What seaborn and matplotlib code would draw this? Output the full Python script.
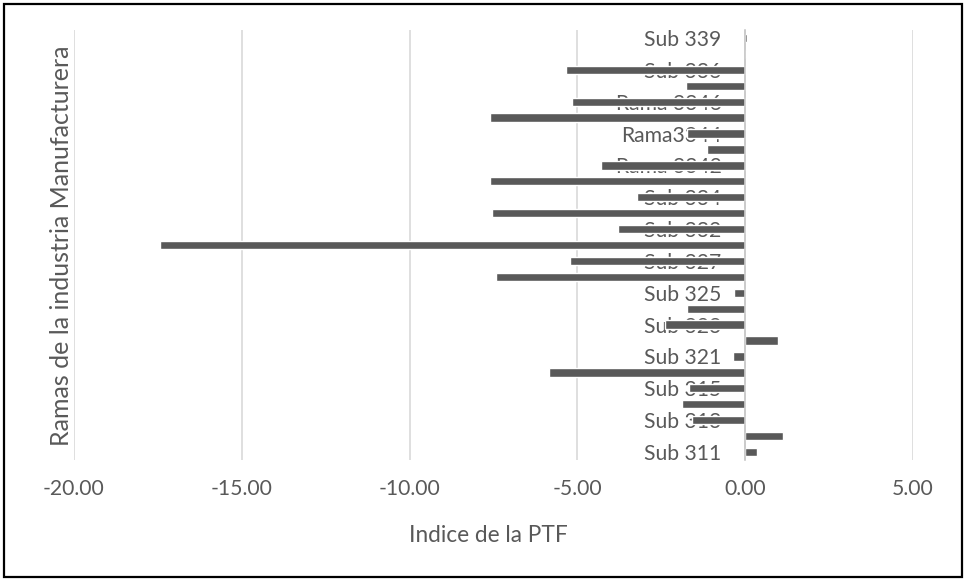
import matplotlib
matplotlib.use("Agg")
import matplotlib.pyplot as plt
import seaborn as sns
import pandas as pd
from matplotlib.patches import Rectangle
from matplotlib.ticker import FormatStrFormatter

# Data (bottom to top as in the reference)
categories = ["Sub 311", "Sub 312", "Sub 313", "Sub 314", "Sub 315", "Sub 316",
              "Sub 321", "Sub 322", "Sub 323", "Sub 324", "Sub 325", "Sub 326", "Sub 327",
              "Sub 331", "Sub 332", "Sub 333", "Sub 334",
              "Rama 3341", "Rama 3342", "Rama 3343", "Rama3344", "Rama 3345", "Rama 3346",
              "Sub 335", "Sub 336", "Sub 337", "Sub 339"]
values = [0.36, 1.13, -1.58, -1.87, -1.67, -5.86,
          -0.36, 0.98, -2.38, -1.73, -0.33, -7.44, -5.21,
          -17.44, -3.78, -7.53, -3.21,
          -7.60, -4.29, -1.13, -1.73, -7.60, -5.15,
          -1.76, -5.33, 0.02, 0.05]
shown_labels = ["Sub 311", "Sub 313", "Sub 315", "Sub 321", "Sub 323", "Sub 325", "Sub 327",
                "Sub 332", "Sub 334", "Rama 3342", "Rama3344", "Rama 3346", "Sub 336", "Sub 339"]
x_ticks = [-20, -15, -10, -5, 0, 5]

sns.set_theme(style="white")
plt.rcParams["font.family"] = ["Lato", "DejaVu Sans"]
plt.rcParams["axes.unicode_minus"] = False

text_color = "#595959"
df = pd.DataFrame({"cat": categories, "val": values})
order = categories[::-1]  # top to bottom

fig = plt.figure(figsize=(9.64, 5.79), dpi=100)
ax = fig.add_axes([74/964, 1 - 460/579, (913 - 74)/964, (460 - 30)/579])

sns.barplot(data=df, x="val", y="cat", order=order, orient="h",
            color="#595959", saturation=1, width=0.52, ax=ax)

ax.set_xlim(-20, 5)
ax.set_ylim(26.5, -0.5)
ax.set_xticks(x_ticks)
ax.xaxis.set_major_formatter(FormatStrFormatter("%.2f"))
ax.grid(axis="x", color="#d9d9d9", linewidth=1.2)
ax.grid(axis="y", visible=False)
ax.set_axisbelow(True)

for s in ["top", "right", "bottom"]:
    ax.spines[s].set_visible(False)
ax.spines["left"].set_position(("data", 0))
ax.spines["left"].set_color("#c8c8c8")
ax.spines["left"].set_linewidth(1.2)

ypos = [order.index(l) for l in shown_labels]
ax.set_yticks(ypos)
ax.set_yticklabels(shown_labels)
ax.tick_params(axis="y", length=0, pad=17, labelsize=15.2, labelcolor=text_color)
ax.tick_params(axis="x", length=0, pad=14, labelsize=15.2, labelcolor=text_color)
ax.set_xlabel("")
ax.set_ylabel("")

fig.text(62/964, 1 - 246/579, "Ramas de la industria Manufacturera", rotation=90,
         ha="center", va="center", fontsize=18, color=text_color)
fig.text(488/964, 1 - 535/579, "Indice de la PTF", ha="center", va="center",
         fontsize=16.3, color=text_color)

fig.add_artist(Rectangle((4/964, 2/579), 958/964, 573/579, transform=fig.transFigure,
                         fill=False, edgecolor="black", linewidth=1.6))

fig.savefig("out.png", dpi=100)
